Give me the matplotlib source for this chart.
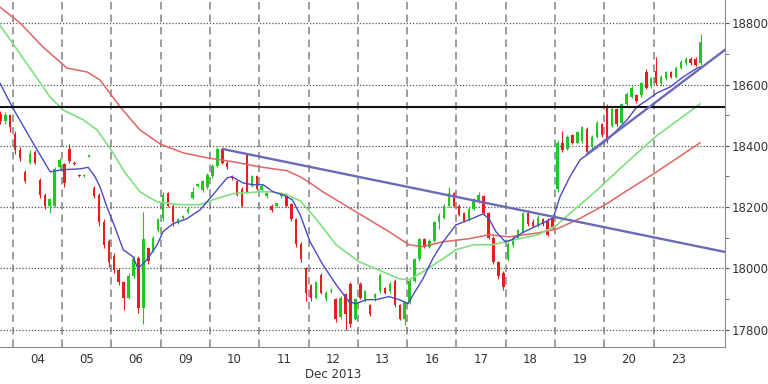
import numpy as np
import matplotlib
matplotlib.use("Agg")
import matplotlib.pyplot as plt
from matplotlib.ticker import FixedLocator, MultipleLocator

# Dias de negociação (Dez 2013); 03 só aparece no fim
day_labels = ["03", "04", "05", "06", "09", "10", "11", "12", "13", "16", "17", "18", "19", "20", "23"]
bars_per_day = 10
first_bar = 7  # do dia 03 só se veem as últimas 3 barras

opens = [
    18505, 18480, 18500,  # 03
    18440, 18385, 18315, 18345, 18380, 18290, 18240, 18205, 18205, 18330,  # 04
    18340, 18390, 18345, 18305, 18300, 18365, 18262, 18240, 18150, 18090,  # 05
    18040, 17995, 17955, 17905, 17975, 18035, 17870, 18065, 18060, 18125,  # 06
    18165, 18245, 18205, 18150, 18165, 18185, 18230, 18270, 18255, 18265,  # 09
    18300, 18335, 18390, 18345, 18300, 18285, 18260, 18370, 18270, 18300,  # 10
    18255, 18235, 18205, 18205, 18235, 18240, 18210, 18160, 18080, 18000,  # 11
    17945, 17905, 17980, 17900, 17925, 17900, 17840, 17915, 17950, 17835,  # 12
    17950, 17895, 17880, 17905, 17925, 17935, 17925, 17960, 17880, 17835,  # 13
    17890, 17960, 18030, 18095, 18070, 18090, 18150, 18165, 18205, 18245,  # 16
    18205, 18180, 18160, 18195, 18220, 18235, 18180, 18100, 18020, 17985,  # 17
    18030, 18075, 18100, 18120, 18180, 18150, 18140, 18160, 18155, 18165,  # 18
    18260, 18410, 18390, 18435, 18410, 18415, 18455, 18395, 18430, 18470,  # 19
    18525, 18465, 18520, 18475, 18535, 18560, 18565, 18565, 18640, 18595,  # 20
    18645, 18605, 18620, 18640, 18625, 18655, 18670, 18685, 18685, 18670,  # 23
]
highs = [
    18515, 18510, 18505,
    18450, 18395, 18320, 18385, 18385, 18295, 18245, 18230, 18330, 18360,
    18345, 18405, 18350, 18308, 18308, 18370, 18270, 18245, 18160, 18095,
    18050, 18000, 17960, 17985, 18040, 18040, 18185, 18070, 18105, 18165,
    18250, 18250, 18210, 18165, 18175, 18200, 18265, 18278, 18290, 18310,
    18340, 18395, 18395, 18350, 18305, 18290, 18265, 18375, 18305, 18305,
    18275, 18250, 18210, 18215, 18250, 18245, 18215, 18165, 18085, 18005,
    17950, 17960, 17985, 17925, 17935, 17905, 17910, 17920, 17955, 17905,
    17955, 17930, 17885, 17920, 17985, 17940, 17955, 17965, 17885, 17895,
    17965, 18035, 18100, 18100, 18095, 18155, 18180, 18210, 18265, 18250,
    18210, 18185, 18200, 18230, 18250, 18240, 18185, 18105, 18025, 17990,
    18085, 18105, 18130, 18185, 18190, 18160, 18175, 18165, 18165, 18175,
    18420, 18450, 18435, 18440, 18450, 18465, 18460, 18435, 18480, 18475,
    18535, 18530, 18525, 18540, 18575, 18595, 18570, 18610, 18650, 18625,
    18690, 18630, 18645, 18645, 18660, 18680, 18690, 18690, 18690, 18765,
]
lows = [
    18470, 18470, 18445,
    18375, 18350, 18280, 18340, 18340, 18230, 18195, 18180, 18200, 18325,
    18265, 18345, 18338, 18298, 18298, 18362, 18230, 18140, 18065, 18005,
    17985, 17945, 17865, 17900, 17970, 17855, 17820, 18015, 18055, 18120,
    18155, 18200, 18140, 18145, 18160, 18180, 18228, 18265, 18250, 18260,
    18295, 18330, 18340, 18325, 18290, 18235, 18200, 18245, 18265, 18255,
    18250, 18230, 18185, 18200, 18230, 18200, 18155, 18070, 18020, 17895,
    17895, 17900, 17915, 17895, 17920, 17825, 17835, 17800, 17810, 17830,
    17900, 17890, 17845, 17895, 17920, 17915, 17920, 17875, 17830, 17815,
    17885, 17955, 18025, 18065, 18065, 18085, 18130, 18160, 18200, 18200,
    18170, 18150, 18155, 18190, 18215, 18175, 18095, 18015, 17965, 17930,
    18025, 18070, 18095, 18115, 18140, 18135, 18135, 18140, 18105, 18130,
    18250, 18380, 18385, 18405, 18405, 18410, 18375, 18390, 18425, 18430,
    18410, 18460, 18465, 18470, 18530, 18555, 18540, 18560, 18585, 18590,
    18600, 18600, 18615, 18620, 18620, 18650, 18665, 18665, 18660, 18665,
]
closes = [
    18480, 18500, 18460,
    18385, 18360, 18285, 18375, 18345, 18240, 18205, 18225, 18325, 18355,
    18280, 18350, 18340, 18300, 18305, 18368, 18235, 18150, 18075, 18020,
    17995, 17955, 17905, 17975, 18030, 17870, 18095, 18025, 18100, 18160,
    18240, 18205, 18150, 18160, 18170, 18195, 18250, 18275, 18285, 18305,
    18335, 18390, 18345, 18330, 18295, 18240, 18205, 18250, 18300, 18260,
    18270, 18245, 18190, 18212, 18245, 18205, 18160, 18080, 18030, 17920,
    17905, 17955, 17920, 17920, 17930, 17835, 17905, 17850, 17820, 17900,
    17905, 17925, 17850, 17915, 17980, 17920, 17950, 17880, 17835, 17890,
    17960, 18030, 18095, 18070, 18090, 18150, 18170, 18205, 18245, 18205,
    18175, 18155, 18195, 18225, 18240, 18180, 18100, 18020, 17975, 17940,
    18080, 18100, 18125, 18180, 18145, 18140, 18165, 18145, 18110, 18135,
    18410, 18385, 18430, 18410, 18445, 18460, 18380, 18430, 18475, 18435,
    18420, 18520, 18470, 18535, 18570, 18590, 18545, 18605, 18590, 18620,
    18605, 18625, 18640, 18625, 18655, 18675, 18685, 18670, 18665, 18740,
]

# Médias móveis (tempo em dias a partir de 03)
blue_t = [0.74, 0.99, 1.41, 1.76, 2.00, 2.37, 2.53, 2.67, 2.77, 2.91, 3.07, 3.24, 3.44, 3.54, 3.72,
          3.93, 4.05, 4.25, 4.53, 4.80, 5.06, 5.35, 5.45, 5.67, 5.87, 6.08, 6.28, 6.48, 6.67, 6.83,
          7.03, 7.29, 7.56, 7.82, 7.96, 8.17, 8.37, 8.63, 8.84, 9.02, 9.12, 9.32, 9.52, 9.73, 9.99,
          10.26, 10.54, 10.66, 10.80, 10.99, 11.13, 11.33, 11.59, 11.80, 11.96, 12.06, 12.10, 12.30,
          12.51, 12.65, 12.85, 13.06, 13.26, 13.46, 13.66, 13.87, 14.07, 14.33, 14.60, 14.88, 14.96]
blue_v = [18605, 18527, 18410, 18315, 18322, 18325, 18330, 18299, 18266, 18201, 18136, 18061, 18038, 17999, 18028,
          18077, 18120, 18146, 18162, 18191, 18240, 18296, 18299, 18279, 18273, 18273, 18250, 18240, 18224, 18175,
          18087, 18012, 17947, 17891, 17885, 17898, 17898, 17908, 17898, 17885, 17914, 17966, 18032, 18087, 18142,
          18159, 18178, 18162, 18120, 18087, 18094, 18116, 18136, 18152, 18165, 18214, 18234, 18299,
          18355, 18371, 18394, 18420, 18452, 18485, 18527, 18550, 18573, 18592, 18625, 18654, 18658]
green_t = [0.74, 1.41, 1.76, 2.02, 2.43, 2.71, 2.97, 3.28, 3.58, 3.93, 4.39, 4.80, 5.06, 5.47, 6.02,
           6.28, 6.56, 6.83, 7.15, 7.56, 8.02, 8.51, 8.84, 9.04, 9.32, 9.73, 9.99, 10.34, 10.72, 10.99,
           11.19, 11.66, 12.02, 12.34, 12.81, 13.36, 14.03, 14.94]
green_v = [18794, 18640, 18559, 18517, 18485, 18452, 18393, 18312, 18250, 18217, 18208, 18208, 18224, 18244, 18250,
           18250, 18240, 18221, 18162, 18077, 18022, 17989, 17966, 17963, 17989, 18032, 18061, 18077, 18077, 18087,
           18094, 18110, 18139, 18185, 18250, 18332, 18429, 18537]
red_t = [0.74, 1.15, 1.61, 2.10, 2.51, 2.77, 3.18, 3.58, 3.99, 4.46, 4.94, 5.47, 6.02, 6.56, 6.83, 7.03,
         7.29, 7.96, 8.63, 9.04, 9.32, 9.73, 10.26, 10.66, 11.07, 11.66, 12.04, 12.49, 13.02, 13.42, 14.03, 14.94]
red_v = [18853, 18801, 18723, 18654, 18641, 18615, 18527, 18452, 18406, 18377, 18361, 18348, 18331, 18319, 18299, 18279,
         18250, 18185, 18120, 18077, 18071, 18087, 18097, 18110, 18103, 18116, 18129, 18162, 18208, 18250, 18312, 18410]

# Linhas de tendência e resistência
fall_t = [5.25, 15.5]
fall_v = [18390, 18052]
rise_t = [12.63, 15.5]
rise_v = [18371, 18720]
resistance = 18528


def candle_positions():
    xs = []
    for k in range(len(day_labels)):
        start = first_bar if k == 0 else 0
        for j in range(start, bars_per_day):
            xs.append(k + (j + 0.5) / bars_per_day)
    return np.array(xs)


def main():
    fig = plt.figure(figsize=(7.68, 3.84), dpi=100)
    ax = fig.add_axes([0, 1 - 347 / 384, 724.7 / 768, 347 / 384])

    x = candle_positions()
    o = np.array(opens)
    h = np.array(highs)
    l = np.array(lows)
    c = np.array(closes)
    up = c >= o
    cols = np.where(up, "#22c822", "#e61e1e")

    ax.vlines(x, l, h, colors=cols, lw=0.8, zorder=2)
    body = np.maximum(np.abs(c - o), 4)
    ax.bar(x, body, bottom=np.minimum(o, c), width=0.05, color=cols, zorder=2, linewidth=0)

    ax.plot(red_t, red_v, color="#e06464", lw=1.1, zorder=3)
    ax.plot(green_t, green_v, color="#80e080", lw=1.2, zorder=3)
    ax.plot(blue_t, blue_v, color="#4a4ac4", lw=1.0, zorder=3)

    ax.axhline(resistance, color="#111111", lw=1.5, zorder=4)
    ax.plot(fall_t, fall_v, color="#6a6ab8", lw=1.7, zorder=4, solid_capstyle="butt")
    ax.plot(rise_t, rise_v, color="#6a6ab8", lw=1.7, zorder=4, solid_capstyle="butt")

    ax.set_xlim(0.742, 15.44)
    ax.set_ylim(17743.5, 18876)

    # eixo x: rótulos no centro de cada dia, grade nos limites
    ax.xaxis.set_major_locator(FixedLocator([k + 0.5 for k in range(1, len(day_labels))]))
    ax.set_xticklabels(day_labels[1:])
    ax.xaxis.set_minor_locator(FixedLocator(list(range(1, len(day_labels)))))
    ax.tick_params(axis="x", which="both", length=0, pad=4, labelsize=8.5, labelcolor="#333333")
    ax.grid(axis="x", which="minor", color="#8c8c8c", lw=1.2, linestyle=(0, (4.5, 3)))

    # eixo y à direita
    ax.yaxis.tick_right()
    ax.yaxis.set_major_locator(MultipleLocator(200))
    ax.yaxis.set_minor_locator(MultipleLocator(100))
    ax.tick_params(axis="y", which="both", direction="out", length=3, color="#555555",
                   labelsize=8.5, labelcolor="#333333", pad=2)
    ax.grid(axis="y", which="major", color="#555555", lw=0.9, linestyle=(0, (1, 1.5)))
    ax.set_axisbelow(True)

    for side in ["left", "top"]:
        ax.spines[side].set_visible(False)
    for side in ["right", "bottom"]:
        ax.spines[side].set_color("#8c8c8c")

    fig.text(333 / 768, 1 - 375 / 384, "Dec 2013", ha="center", va="center",
             fontsize=8.5, color="#333333")

    fig.savefig("out.png", dpi=100)


if __name__ == "__main__":
    main()
